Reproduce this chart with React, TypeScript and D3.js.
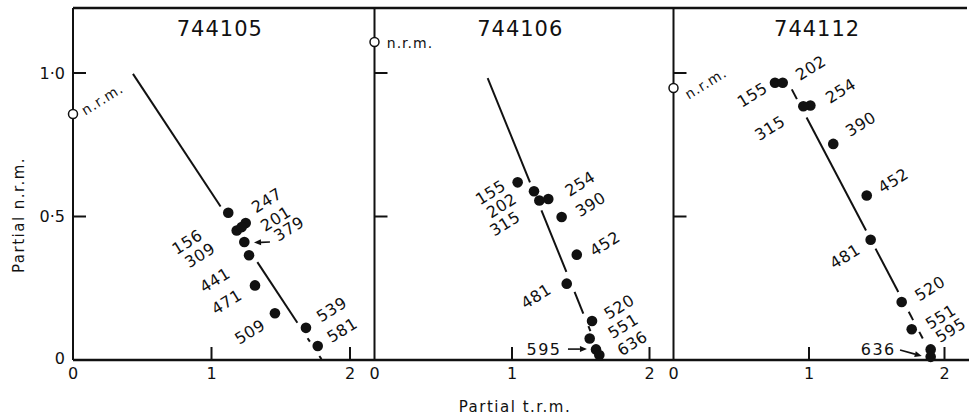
import React from "react";
import * as d3 from "d3";

// three specimens, partial n.r.m. lost vs partial t.r.m. gained
const titles = ["744105", "744106", "744112"];
const nrmStart = [0.857, 1.108, 0.948];
const nrmLabelX = [0.212, 0.258, 0.238];
const nrmLabelY = [0.909, 1.105, 0.964];
const nrmLabelAngle = [-32, 0, -32];

const steps105 = ["156", "201", "247", "309", "379", "441", "471", "509", "539", "581"];
const trm105 = [1.121, 1.182, 1.247, 1.218, 1.237, 1.271, 1.314, 1.458, 1.682, 1.767];
const nrm105 = [0.513, 0.451, 0.477, 0.463, 0.411, 0.365, 0.26, 0.163, 0.112, 0.049];
const labelX105 = [0.825, 1.464, 1.399, 0.917, 1.56, 1.025, 1.11, 1.278, 1.868, 1.944];
const labelY105 = [0.411, 0.492, 0.556, 0.365, 0.457, 0.278, 0.202, 0.098, 0.176, 0.104];
const fit105 = [[0.433, 0.997], [1.798, 0]];
const shown105 = [[0.997, 0.535], [0.341, 0.13], [0.076, 0.064], [0.014, 0.003]];

const steps106 = ["155", "202", "254", "315", "390", "452", "481", "520", "551", "595", "636"];
const trm106 = [1.041, 1.16, 1.264, 1.199, 1.361, 1.471, 1.398, 1.582, 1.565, 1.611, 1.635];
const nrm106 = [0.619, 0.588, 0.561, 0.556, 0.498, 0.367, 0.266, 0.136, 0.075, 0.037, 0.017];
const labelX106 = [0.845, 0.925, 1.495, 0.949, 1.572, 1.676, 1.175, 1.78, 1.809, 1.233, 1.875];
const labelY106 = [0.584, 0.538, 0.614, 0.475, 0.542, 0.405, 0.222, 0.185, 0.118, 0.035, 0.058];
const fit106 = [[0.823, 0.982], [1.656, 0]];
const shown106 = [[0.982, 0.619], [0.521, 0.307], [0.237, 0.162], [0.118, 0.101], [0.01, 0]];

const steps112 = ["155", "202", "254", "315", "390", "452", "481", "520", "551", "595", "636"];
const trm112 = [0.749, 0.806, 1.01, 0.958, 1.179, 1.426, 1.455, 1.684, 1.758, 1.898, 1.898];
const nrm112 = [0.966, 0.966, 0.887, 0.884, 0.753, 0.573, 0.419, 0.202, 0.107, 0.037, 0.011];
const labelX112 = [0.582, 1.013, 1.234, 0.712, 1.382, 1.622, 1.266, 1.893, 1.972, 2.046, 1.511];
const labelY112 = [0.924, 1.018, 0.938, 0.808, 0.822, 0.625, 0.361, 0.249, 0.15, 0.104, 0.037];
const fit112 = [[0.873, 0.943], [1.923, 0]];
const shown112 = [[0.943, 0.909], [0.845, 0.451], [0.388, 0.237], [0.168, 0.139], [0.098, 0.075]];

// labels written flat, with an arrow pointing at their dot
const flatLabels = [[], ["595"], ["636"]];
const arrows = [
  [{ from: [1.422, 0.411], to: [1.307, 0.409] }],
  [{ from: [1.407, 0.038], to: [1.545, 0.038] }],
  [{ from: [1.672, 0.035], to: [1.832, 0.014] }],
];

const panels = [
  { steps: steps105, trm: trm105, nrm: nrm105, lx: labelX105, ly: labelY105, fit: fit105, shown: shown105 },
  { steps: steps106, trm: trm106, nrm: nrm106, lx: labelX106, ly: labelY106, fit: fit106, shown: shown106 },
  { steps: steps112, trm: trm112, nrm: nrm112, lx: labelX112, ly: labelY112, fit: fit112, shown: shown112 },
];

const W = 969;
const H = 418;
const top = 8;
const bottom = 360;
const left = [73, 374.5, 673.5];
const unit = [138.5, 137.5, 135.5];
const font = "'DejaVu Sans', Verdana, sans-serif";
const ink = "#111";

const y = d3.scaleLinear().domain([0, 1]).range([bottom, 73]);

function Panel({ i }: { i: number }) {
  const p = panels[i];
  const x = d3.scaleLinear().domain([0, 2]).range([left[i], left[i] + 2 * unit[i]]);
  const [[fx1, fy1], [fx2, fy2]] = p.fit;
  const fitX = (v: number) => fx1 + ((v - fy1) * (fx2 - fx1)) / (fy2 - fy1);
  const seg = d3.line<number>().x(v => x(fitX(v))).y(v => y(v));

  return (
    <g>
      {/* y axis */}
      <line x1={x(0)} x2={x(0)} y1={top} y2={bottom} stroke={ink} strokeWidth={2} />
      {[0.5, 1].map(t => (
        <line key={t} x1={x(0)} x2={x(0) + 13} y1={y(t)} y2={y(t)} stroke={ink} strokeWidth={2} />
      ))}
      {[1, 2].map(t => (
        <line key={t} x1={x(t)} x2={x(t)} y1={bottom} y2={bottom - 13} stroke={ink} strokeWidth={2} />
      ))}
      {[0, 1, 2].map(t => (
        <text key={t} x={x(t)} y={379} textAnchor="middle" fontSize={16} fontFamily={font} fill={ink}>
          {t}
        </text>
      ))}
      <text x={x(1.06)} y={36} textAnchor="middle" fontSize={21} fontFamily={font}
        letterSpacing={1} fill={ink}>
        {titles[i]}
      </text>

      {/* fitted line, broken where it passes the dots */}
      {p.shown.map((s, k) => (
        <path key={k} d={seg(s) || ""} stroke={ink} strokeWidth={2} fill="none" />
      ))}

      {p.trm.map((v, k) => (
        <circle key={k} cx={x(v)} cy={y(p.nrm[k])} r={5.3} fill={ink} />
      ))}

      {p.steps.map((s, k) => {
        const flat = flatLabels[i].includes(s);
        const cx = x(p.lx[k]);
        const cy = y(p.ly[k]);
        return (
          <text key={s} x={cx} y={cy} textAnchor="middle" dominantBaseline="central"
            transform={flat ? undefined : `rotate(-32 ${cx} ${cy})`}
            fontSize={16} letterSpacing={flat ? 1.5 : 0.5} fontFamily={font} fill={ink}>
            {s}
          </text>
        );
      })}

      {arrows[i].map((a, k) => {
        const x1 = x(a.from[0]), y1 = y(a.from[1]);
        const x2 = x(a.to[0]), y2 = y(a.to[1]);
        const ang = Math.atan2(y2 - y1, x2 - x1);
        const hl = 7, hw = 3;
        const bx = x2 - hl * Math.cos(ang), by = y2 - hl * Math.sin(ang);
        const head = `M${x2},${y2}L${bx - hw * Math.sin(ang)},${by + hw * Math.cos(ang)}L${bx + hw * Math.sin(ang)},${by - hw * Math.cos(ang)}Z`;
        return (
          <g key={k}>
            <line x1={x1} y1={y1} x2={bx} y2={by} stroke={ink} strokeWidth={1.6} />
            <path d={head} fill={ink} />
          </g>
        );
      })}

      {/* starting n.r.m. value */}
      <circle cx={x(0)} cy={y(nrmStart[i])} r={4.5} fill="#fff" stroke={ink} strokeWidth={1.5} />
      {(() => {
        const cx = x(nrmLabelX[i]);
        const cy = y(nrmLabelY[i]);
        return (
          <text x={cx} y={cy} textAnchor="middle" dominantBaseline="central"
            transform={nrmLabelAngle[i] ? `rotate(${nrmLabelAngle[i]} ${cx} ${cy})` : undefined}
            fontSize={14} letterSpacing={1} fontFamily={font} fill={ink}>
            n.r.m.
          </text>
        );
      })()}
    </g>
  );
}

export default function App() {
  return (
    <svg width={W} height={H} style={{ position: "absolute", left: 0, top: 0, display: "block", background: "#fff" }}>
      <line x1={left[0]} x2={967} y1={top} y2={top} stroke={ink} strokeWidth={2.5} />
      <line x1={left[0]} x2={W} y1={bottom} y2={bottom} stroke={ink} strokeWidth={2.5} />
      {[0, 1, 2].map(i => (
        <Panel key={i} i={i} />
      ))}
      {/* left-panel y tick labels */}
      {[
        ["1·0", 1],
        ["0·5", 0.5],
        ["0", 0],
      ].map(([t, v]) => (
        <text key={t as string} x={65} y={y(v as number) + (v === 0 ? -2 : 0)} textAnchor="end"
          dominantBaseline="central" fontSize={16} fontFamily={font} fill={ink}>
          {t}
        </text>
      ))}
      <text x={0} y={0} transform={`translate(24,215) rotate(-90)`} textAnchor="middle"
        fontSize={15} letterSpacing={1.5} fontFamily={font} fill={ink}>
        Partial n.r.m.
      </text>
      <text x={515} y={412} textAnchor="middle" fontSize={15} letterSpacing={1.5} fontFamily={font} fill={ink}>
        Partial t.r.m.
      </text>
    </svg>
  );
}
